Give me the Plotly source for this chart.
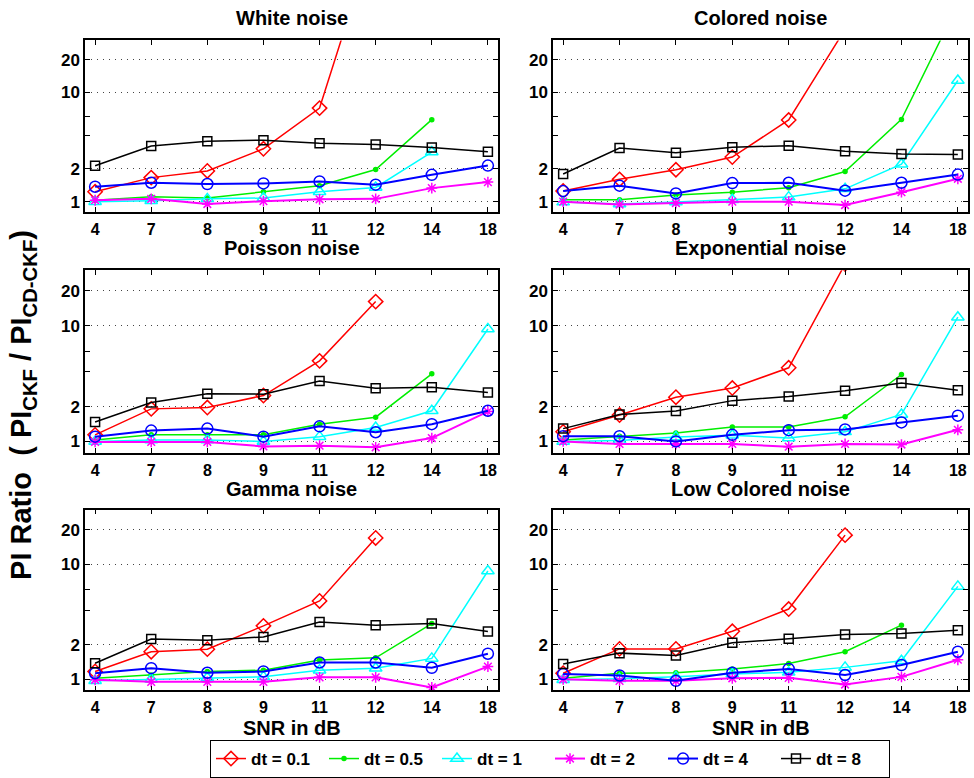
import plotly.graph_objects as go

snr_db = ["4", "7", "8", "9", "11", "12", "14", "18"]
panel_titles = ["White noise", "Colored noise", "Poisson noise",
                "Exponential noise", "Gamma noise", "Low Colored noise"]
dt_labels = ["dt = 0.1", "dt = 0.5", "dt = 1", "dt = 2", "dt = 4", "dt = 8"]
y_tick_vals = [1, 2, 10, 20]
y_tick_text = ["1", "2", "10", "20"]

N = None
white_noise = [
    [1.23, 1.66, 1.91, 3.05, 7.2, 300, N, N],
    [1.03, 1.11, 1.08, 1.23, 1.40, 1.97, 5.64, N],
    [1.0, 1.02, 1.06, 1.08, 1.23, 1.35, 2.85, N],
    [1.03, 1.06, 0.95, 1.01, 1.05, 1.06, 1.33, 1.51],
    [1.37, 1.49, 1.45, 1.47, 1.53, 1.43, 1.76, 2.14],
    [2.13, 3.23, 3.58, 3.66, 3.42, 3.34, 3.14, 2.87],
]
colored_noise = [
    [1.25, 1.6, 1.96, 2.56, 5.6, 38, N, N],
    [1.04, 1.04, 1.15, 1.22, 1.34, 1.89, 5.67, 64],
    [0.99, 0.95, 0.99, 1.04, 1.10, 1.31, 2.2, 12.9],
    [1.0, 0.94, 0.97, 1.0, 1.0, 0.93, 1.22, 1.62],
    [1.25, 1.40, 1.19, 1.48, 1.49, 1.26, 1.49, 1.77],
    [1.79, 3.1, 2.81, 3.15, 3.26, 2.9, 2.73, 2.7],
]
poisson_noise = [
    [1.14, 1.91, 1.96, 2.49, 4.96, 16.1, N, N],
    [1.03, 1.14, 1.14, 1.14, 1.41, 1.62, 3.83, N],
    [1.0, 1.03, 1.03, 1.0, 1.10, 1.32, 1.84, 9.35],
    [0.99, 0.99, 0.99, 0.905, 0.92, 0.89, 1.07, 1.81],
    [1.10, 1.24, 1.29, 1.10, 1.35, 1.20, 1.41, 1.84],
    [1.47, 2.17, 2.58, 2.56, 3.33, 2.88, 2.94, 2.65],
]
exponential_noise = [
    [1.21, 1.69, 2.41, 2.89, 4.32, 34, N, N],
    [1.03, 1.11, 1.18, 1.33, 1.33, 1.63, 3.78, N],
    [1.0, 1.02, 1.09, 1.13, 1.07, 1.21, 1.71, 11.8],
    [1.0, 0.95, 0.95, 0.95, 0.90, 0.95, 0.94, 1.26],
    [1.11, 1.11, 1.0, 1.14, 1.25, 1.27, 1.46, 1.67],
    [1.29, 1.71, 1.83, 2.25, 2.44, 2.74, 3.19, 2.76],
]
gamma_noise = [
    [1.17, 1.74, 1.83, 2.92, 4.81, 17.0, N, N],
    [1.02, 1.09, 1.17, 1.20, 1.47, 1.54, 3.06, N],
    [0.97, 1.0, 1.03, 1.05, 1.20, 1.25, 1.52, 8.77],
    [0.99, 0.95, 0.95, 0.95, 1.04, 1.04, 0.85, 1.29],
    [1.13, 1.25, 1.14, 1.17, 1.40, 1.40, 1.26, 1.67],
    [1.38, 2.24, 2.19, 2.34, 3.16, 2.96, 3.06, 2.61],
]
low_colored_noise = [
    [1.13, 1.84, 1.84, 2.62, 4.09, 18.0, N, N],
    [1.02, 1.13, 1.14, 1.23, 1.37, 1.74, 2.96, N],
    [0.99, 1.01, 1.05, 1.11, 1.15, 1.27, 1.45, 6.44],
    [1.0, 0.97, 0.97, 1.02, 1.03, 0.90, 1.05, 1.48],
    [1.11, 1.08, 0.97, 1.14, 1.23, 1.09, 1.33, 1.74],
    [1.36, 1.69, 1.61, 2.08, 2.25, 2.46, 2.50, 2.67],
]
panels = [white_noise, colored_noise, poisson_noise,
          exponential_noise, gamma_noise, low_colored_noise]

colors = ["#FF0000", "#00EE00", "#00FFFF", "#FF00FF", "#0000FF", "#000000"]
symbols = ["diamond-open", "circle", "triangle-up-open", "asterisk-open",
           "circle-open", "square-open"]
msizes = [11, 4, 11, 9, 11, 9]
lwidths = [1.5, 1.5, 1.5, 2, 2, 1.5]

W, H = 974, 778
col_px = [(85, 498), (553, 968)]
row_px = [(40.7, 213.3), (271.7, 455), (512.3, 694)]
title_y_px = [18, 249, 492]

FONT = "Liberation Sans, Arial, sans-serif"

fig = go.Figure()
layout = dict(
    width=W, height=H, margin=dict(l=0, r=0, t=0, b=0),
    paper_bgcolor="white", plot_bgcolor="white",
    font=dict(family=FONT, color="black"),
    showlegend=True,
)
annotations = []

for p, data in enumerate(panels):
    r, c = divmod(p, 2)
    k = p + 1
    xa = "x" if k == 1 else f"x{k}"
    ya = "y" if k == 1 else f"y{k}"
    for s, vals in enumerate(data):
        fig.add_trace(go.Scatter(
            x=snr_db, y=vals, xaxis=xa, yaxis=ya,
            mode="lines+markers", name=dt_labels[s],
            legendgroup=dt_labels[s], showlegend=(p == 0),
            line=dict(color=colors[s], width=lwidths[s]),
            marker=dict(symbol=symbols[s], size=msizes[s], color=colors[s],
                        line=dict(color=colors[s], width=1.5)),
            connectgaps=False,
        ))
    x0, x1 = col_px[c]
    yt, yb = row_px[r]
    layout["xaxis" if k == 1 else f"xaxis{k}"] = dict(
        domain=[x0 / W, x1 / W], anchor=ya, type="category",
        categoryorder="array", categoryarray=snr_db,
        range=[-0.18, 7.18], showline=True, linecolor="black", linewidth=1.5,
        mirror="ticks", ticks="inside", ticklen=5, tickcolor="black",
        tickwidth=1, showgrid=False, zeroline=False,
        tickfont=dict(family=FONT, size=16, color="black", weight="bold"),
        ticklabelstandoff=2,
    )
    layout["yaxis" if k == 1 else f"yaxis{k}"] = dict(
        domain=[1 - yb / H, 1 - yt / H], anchor=xa, type="log",
        range=[-0.0969, 1.477], showline=True, linecolor="black",
        linewidth=1.5, mirror="ticks", ticks="inside", ticklen=5,
        tickcolor="black", tickwidth=1, tickmode="array",
        tickvals=y_tick_vals, ticktext=y_tick_text,
        showgrid=True, gridcolor="#444444", gridwidth=1, griddash="1px,5px",
        zeroline=False,
        minor=dict(tickmode="array", tickvals=[4, 6], ticks="inside",
                   ticklen=5, tickcolor="black", showgrid=False),
        tickfont=dict(family=FONT, size=17, color="black", weight="bold"),
    )
    annotations.append(dict(
        text=panel_titles[p], xref="paper", yref="paper",
        x=(x0 + x1) / 2 / W, y=1 - title_y_px[r] / H,
        xanchor="center", yanchor="middle", showarrow=False,
        font=dict(family=FONT, size=20, color="black", weight="bold"),
    ))

for c in range(2):
    x0, x1 = col_px[c]
    annotations.append(dict(
        text="SNR in dB", xref="paper", yref="paper",
        x=(x0 + x1) / 2 / W, y=1 - 732 / H,
        xanchor="center", yanchor="middle", showarrow=False,
        font=dict(family=FONT, size=20, color="black", weight="bold"),
    ))

annotations.append(dict(
    text="PI Ratio  ( PI<sub>CKF</sub> / PI<sub>CD-CKF</sub>)",
    xref="paper", yref="paper", x=23 / W, y=1 - 407 / H,
    xanchor="center", yanchor="middle", textangle=-90, showarrow=False,
    font=dict(family=FONT, size=29, color="black", weight="bold"),
))

layout["annotations"] = annotations
layout["legend"] = dict(
    orientation="h", x=550 / W, y=1 - 744 / H, xanchor="center",
    yanchor="top", bordercolor="black", borderwidth=1, bgcolor="white",
    font=dict(family=FONT, size=17, color="black", weight="bold"),
    traceorder="normal", itemsizing="trace",
    entrywidth=68, entrywidthmode="pixels",
)
fig.update_layout(**layout)
fig.write_html("out.html")
